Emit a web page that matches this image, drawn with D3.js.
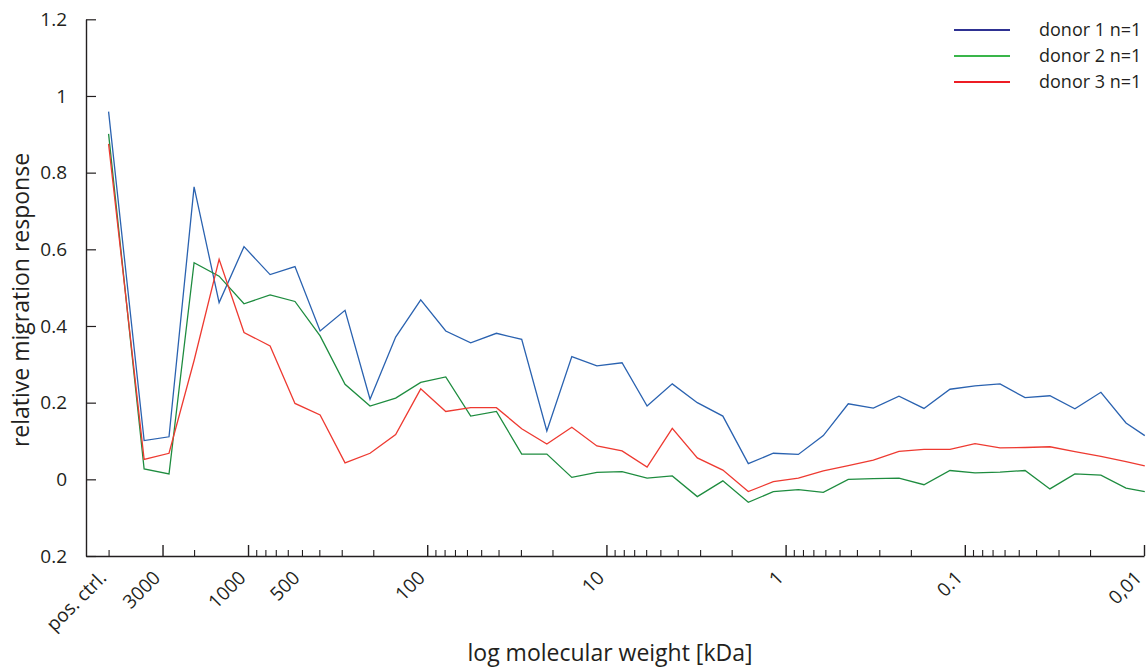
<!DOCTYPE html>
<html>
<head>
<meta charset="utf-8">
<script src="https://cdn.jsdelivr.net/npm/d3@7"></script>
<style>
  html, body { margin: 0; padding: 0; background: #fff; }
  svg { display: block; font-family: "Open Sans", "Noto Sans", sans-serif; }
</style>
</head>
<body>
<svg id="chart" width="1148" height="668"></svg>
<script>
// ---- data ----
const molecularWeight = [6000, 3800, 2760, 2000, 1450, 1053, 753, 547, 396, 287.5, 208.5, 150, 108.7, 78.8, 57.2, 41.1, 29.7, 21.5, 15.6, 11.3, 8.18, 5.93, 4.29, 3.11, 2.24, 1.615, 1.171, 0.849, 0.616, 0.447, 0.324, 0.233, 0.169, 0.121, 0.0877, 0.0636, 0.0461, 0.0335, 0.0243, 0.0174, 0.0126, 0.0099];
const donor1 = [0.959, 0.101, 0.111, 0.763, 0.461, 0.607, 0.534, 0.555, 0.387, 0.441, 0.209, 0.371, 0.468, 0.387, 0.356, 0.381, 0.365, 0.126, 0.320, 0.296, 0.304, 0.191, 0.249, 0.200, 0.165, 0.041, 0.068, 0.065, 0.114, 0.197, 0.186, 0.217, 0.185, 0.235, 0.244, 0.249, 0.213, 0.218, 0.184, 0.227, 0.147, 0.114];
const donor2 = [0.901, 0.027, 0.014, 0.565, 0.530, 0.458, 0.481, 0.464, 0.374, 0.248, 0.191, 0.212, 0.253, 0.267, 0.165, 0.177, 0.066, 0.066, 0.005, 0.018, 0.020, 0.003, 0.009, -0.045, -0.004, -0.060, -0.032, -0.027, -0.034, 0.000, 0.002, 0.003, -0.014, 0.023, 0.017, 0.019, 0.023, -0.025, 0.014, 0.011, -0.023, -0.032];
const donor3 = [0.875, 0.052, 0.068, 0.31, 0.574, 0.383, 0.348, 0.198, 0.168, 0.043, 0.068, 0.117, 0.236, 0.177, 0.187, 0.187, 0.132, 0.092, 0.136, 0.087, 0.074, 0.032, 0.133, 0.056, 0.024, -0.032, -0.006, 0.003, 0.022, 0.036, 0.050, 0.073, 0.078, 0.078, 0.093, 0.082, 0.083, 0.085, 0.072, 0.060, 0.046, 0.035];
const seriesNames = ["donor 1 n=1", "donor 2 n=1", "donor 3 n=1"];
const xLabelValues = [6000, 3000, 1000, 500, 100, 10, 1, 0.1, 0.01];
const xLabelTexts = ["pos. ctrl.", "3000", "1000", "500", "100", "10", "1", "0.1", "0,01"];
const xMajorTicks = [3000, 1000, 100, 10, 1, 0.1, 0.01];
const xMinorTicks = [6000, 2000, 900, 800, 700, 600, 500, 400, 300, 200, 90, 80, 70, 60, 50, 40, 30, 20, 9, 8, 7, 6, 5, 4, 3, 2, 0.9, 0.8, 0.7, 0.6, 0.5, 0.4, 0.3, 0.2, 0.09, 0.08, 0.07, 0.06, 0.05, 0.04, 0.03, 0.02];
const yTickValues = [-0.2, 0, 0.2, 0.4, 0.6, 0.8, 1.0, 1.2];
const yTickTexts = ["0.2", "0", "0.2", "0.4", "0.6", "0.8", "1", "1.2"];

// ---- styles ----
const lineColors = ["#2a62b0", "#1e8c3f", "#ee3a31"];
const legendColors = ["#2e3192", "#39b54a", "#ed1c24"];
const ink = "#231f20";
const fontStack = '"Open Sans", "Noto Sans", sans-serif';

const svg = d3.select("#chart");
const mLeft = 86, mRight = 1144, mTop = 19.3, mBottom = 556;

const x = d3.scaleLog().domain([8020, 0.01]).range([mLeft, mRight]);
const y = d3.scaleLinear().domain([-0.2, 1.2]).range([mBottom, mTop]);

// y axis
const yAxis = d3.axisLeft(y)
  .tickValues(yTickValues)
  .tickFormat((d, i) => yTickTexts[i])
  .tickSizeInner(-10).tickSizeOuter(0).tickPadding(19);
const gy = svg.append("g").attr("transform", `translate(${mLeft},0)`).call(yAxis);
gy.select(".domain").attr("stroke", ink).attr("stroke-width", 1.4);
gy.selectAll(".tick line").attr("stroke", ink).attr("stroke-width", 1.2);
gy.selectAll(".tick text").attr("fill", ink).style("font-size", "19px")
  .style("font-family", fontStack);

// x axis: minor ticks
const xMinorAxis = d3.axisBottom(x).tickValues(xMinorTicks).tickFormat("")
  .tickSizeInner(-6).tickSizeOuter(0);
const gxm = svg.append("g").attr("transform", `translate(0,${mBottom})`).call(xMinorAxis);
gxm.select(".domain").remove();
gxm.selectAll(".tick line").attr("stroke", ink).attr("stroke-width", 1.1);

// x axis: major ticks and baseline
const xMajorAxis = d3.axisBottom(x).tickValues(xMajorTicks).tickFormat("")
  .tickSizeInner(-11).tickSizeOuter(0);
const gxM = svg.append("g").attr("transform", `translate(0,${mBottom})`).call(xMajorAxis);
gxM.select(".domain").attr("stroke", ink).attr("stroke-width", 1.4);
gxM.selectAll(".tick line").attr("stroke", ink).attr("stroke-width", 1.4);

// x tick labels (rotated)
svg.append("g").selectAll("text")
  .data(xLabelValues)
  .join("text")
  .attr("transform", d => `translate(${x(d) - 1},${mBottom + 23}) rotate(-45)`)
  .attr("text-anchor", "end")
  .attr("fill", ink)
  .style("font-size", "19px")
  .text((d, i) => xLabelTexts[i]);

// axis titles
svg.append("text")
  .attr("x", 610).attr("y", 661)
  .attr("text-anchor", "middle")
  .attr("fill", ink)
  .style("font-size", "23px")
  .text("log molecular weight [kDa]");

svg.append("text")
  .attr("transform", `translate(29,300) rotate(-90)`)
  .attr("text-anchor", "middle")
  .attr("fill", ink)
  .style("font-size", "23px")
  .text("relative migration response");

// lines
const allSeries = [donor1, donor2, donor3];
const line = d3.line()
  .x((d, i) => x(molecularWeight[i]))
  .y(d => y(d));
svg.append("g").selectAll("path")
  .data(allSeries)
  .join("path")
  .attr("d", d => line(d))
  .attr("fill", "none")
  .attr("stroke", (d, i) => lineColors[i])
  .attr("stroke-width", 1.3)
  .attr("stroke-linejoin", "miter");

// legend
const legend = svg.append("g").attr("transform", "translate(954,30)");
const legendRows = legend.selectAll("g").data(seriesNames).join("g")
  .attr("transform", (d, i) => `translate(0,${i * 26})`);
legendRows.append("line")
  .attr("x1", 0).attr("x2", 56).attr("y1", 0).attr("y2", 0)
  .attr("stroke", (d, i) => legendColors[i]).attr("stroke-width", 2);
legendRows.append("text")
  .attr("x", 85).attr("y", 0).attr("dy", "0.35em")
  .attr("fill", ink)
  .style("font-size", "18px")
  .text(d => d);
</script>
</body>
</html>
